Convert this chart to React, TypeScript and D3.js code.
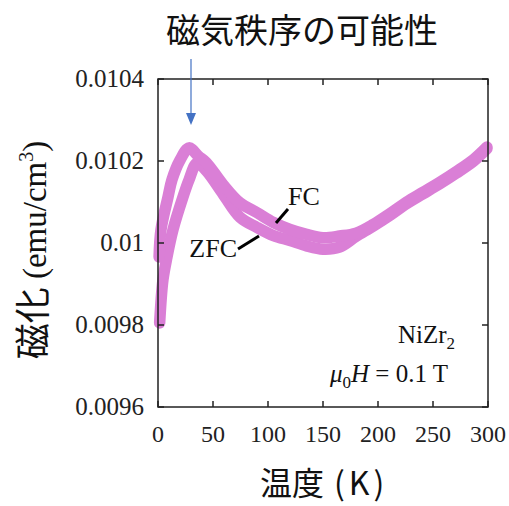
import React from "react";
import * as d3 from "d3";

const xTicks = [0, 50, 100, 150, 200, 250, 300];
const yTicks = [0.0096, 0.0098, 0.01, 0.0102, 0.0104];
const yTickLabels = ["0.0096", "0.0098", "0.01", "0.0102", "0.0104"];

const zfcT = [1.5, 4.5, 8.2, 13.6, 22.7, 28.2, 35.5, 44, 59, 74.5, 90, 105, 120, 135, 150, 165, 180, 196, 211, 226, 241, 256, 271, 287, 299];
const zfcM = [0.009805, 0.00991, 0.009966, 0.010032, 0.010112, 0.010154, 0.010195, 0.010176, 0.01012, 0.010063, 0.010038, 0.010018, 0.010006, 0.009993, 0.009985, 0.00999, 0.010016, 0.010042, 0.010068, 0.010096, 0.01012, 0.010144, 0.01017, 0.0102, 0.01023];

const fcT = [1, 2.7, 9.1, 12.7, 20, 28.2, 36.7, 44, 59, 74.5, 90, 105, 120, 135, 150, 165, 180, 196, 211, 226, 241, 256, 271, 287, 299];
const fcM = [0.009966, 0.010032, 0.010112, 0.010154, 0.010202, 0.010232, 0.010212, 0.010196, 0.010143, 0.010098, 0.010074, 0.01005, 0.010033, 0.010021, 0.010013, 0.010017, 0.010024, 0.010046, 0.010072, 0.0101, 0.010124, 0.010148, 0.010174, 0.010204, 0.010234];

const title = "磁気秩序の可能性";
const xLabelMain = "温度";
const xLabelUnit = "(K)";

const W = 509, H = 506;
const L = 158, R = 488, T = 79, B = 407;
const serif = "'Liberation Serif', 'Times New Roman', serif";
const cjk = "'Noto Sans CJK JP', 'Noto Sans', sans-serif";
const pink = "#da7fd6";

export default function App() {
  const x = d3.scaleLinear().domain([0, 300]).range([L, R]);
  const y = d3.scaleLinear().domain([0.0096, 0.0104]).range([B, T]);
  const mk = (ts: number[], ms: number[]) =>
    d3
      .line<[number, number]>()
      .x((d) => x(d[0]))
      .y((d) => y(d[1]))
      .curve(d3.curveCatmullRom.alpha(0.5))(ts.map((t, i) => [t, ms[i]] as [number, number])) || "";
  const tl = 6;
  return (
    <svg width={W} height={H} style={{ position: "absolute", left: 0, top: 0, background: "#fff" }}>
      <rect x={0} y={0} width={W} height={H} fill="#fff" />
      {/* curves */}
      <path d={mk(zfcT, zfcM)} fill="none" stroke={pink} strokeWidth={11.5} strokeLinejoin="round" strokeLinecap="round" />
      <path d={mk(fcT, fcM)} fill="none" stroke={pink} strokeWidth={11.5} strokeLinejoin="round" strokeLinecap="round" />
      {/* frame */}
      <rect x={L} y={T} width={R - L} height={B - T} fill="none" stroke="#222" strokeWidth={1.5} />
      {xTicks.map((t) => (
        <g key={"x" + t}>
          <line x1={x(t)} x2={x(t)} y1={B} y2={B - tl} stroke="#222" strokeWidth={1.5} />
          <line x1={x(t)} x2={x(t)} y1={T} y2={T + tl} stroke="#222" strokeWidth={1.5} />
          <text x={x(t)} y={442} textAnchor="middle" fontFamily={serif} fontSize={24} fill="#222">
            {t}
          </text>
        </g>
      ))}
      {yTicks.map((v, i) => (
        <g key={"y" + i}>
          <line x1={L} x2={L + tl} y1={y(v)} y2={y(v)} stroke="#222" strokeWidth={1.5} />
          <line x1={R} x2={R - tl} y1={y(v)} y2={y(v)} stroke="#222" strokeWidth={1.5} />
          <text x={144} y={y(v) + 8} textAnchor="end" fontFamily={serif} fontSize={25} fill="#222">
            {yTickLabels[i]}
          </text>
        </g>
      ))}
      {/* annotations */}
      <text x={288} y={205} fontFamily={serif} fontSize={26} fill="#111">FC</text>
      <line x1={288} y1={209} x2={276} y2={223} stroke="#000" strokeWidth={3} />
      <text x={237} y={257} textAnchor="end" fontFamily={serif} fontSize={26} fill="#111">ZFC</text>
      <line x1={238} y1={249} x2={259} y2={236} stroke="#000" strokeWidth={3} />
      <text x={455} y={343} textAnchor="end" fontFamily={serif} fontSize={25} fill="#111">
        NiZr<tspan fontSize={17} dy={6}>2</tspan>
      </text>
      <text x={448} y={382} textAnchor="end" fontFamily={serif} fontSize={25} fill="#111">
        <tspan fontStyle="italic">μ</tspan>
        <tspan fontSize={17} dy={6}>0</tspan>
        <tspan dy={-6} fontStyle="italic">H</tspan>
        <tspan> = 0.1 T</tspan>
      </text>
      {/* arrow */}
      <line x1={191} y1={59} x2={191} y2={114} stroke="#4472c4" strokeWidth={1.2} />
      <path d="M186,113 L196,113 L191,125 Z" fill="#4472c4" />
      {/* title */}
      <text x={302} y={43} textAnchor="middle" fontFamily={cjk} fontSize={34} fill="#111">
        {title}
      </text>
      {/* x label */}
      <text x={260} y={495} fontFamily={cjk} fontSize={32} fill="#111">
        {xLabelMain}
      </text>
      <text x={334} y={495} fontFamily={cjk} fontSize={32} fill="#111" letterSpacing={4}>
        {xLabelUnit}
      </text>
      {/* y label */}
      <text transform={`translate(46,250) rotate(-90)`} textAnchor="middle" fill="#111">
        <tspan fontFamily={cjk} fontSize={36}>磁化</tspan>
        <tspan fontFamily={serif} fontSize={33}> (emu/cm</tspan>
        <tspan fontFamily={serif} fontSize={20} dy={-13}>3</tspan>
        <tspan fontFamily={serif} fontSize={33} dy={13}>)</tspan>
      </text>
    </svg>
  );
}
